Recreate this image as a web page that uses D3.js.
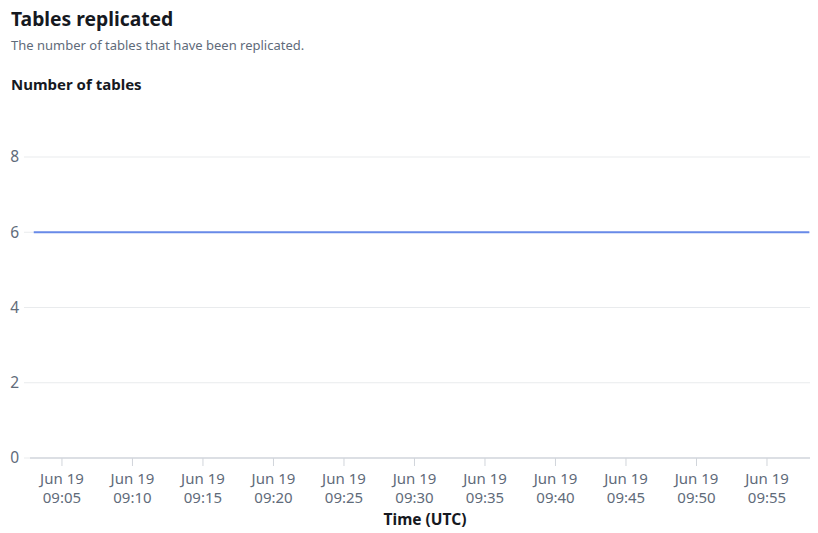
<!DOCTYPE html>
<html><head><meta charset="utf-8">
<script src="https://cdn.jsdelivr.net/npm/d3@7"></script>
<style>
body{margin:0;background:#fff;font-family:"Noto Sans","Open Sans",sans-serif;}
</style></head>
<body><svg id="c" width="818" height="533"></svg>
<script>
const times = ["09:03","09:04","09:05","09:06","09:07","09:08","09:09","09:10","09:11","09:12","09:13","09:14","09:15","09:16","09:17","09:18","09:19","09:20","09:21","09:22","09:23","09:24","09:25","09:26","09:27","09:28","09:29","09:30","09:31","09:32","09:33","09:34","09:35","09:36","09:37","09:38","09:39","09:40","09:41","09:42","09:43","09:44","09:45","09:46","09:47","09:48","09:49","09:50","09:51","09:52","09:53","09:54","09:55","09:56","09:57","09:58"];
const tablesReplicated = times.map(() => 6);
const yTicks = [0,2,4,6,8];
const xTickLabels = ["09:05","09:10","09:15","09:20","09:25","09:30","09:35","09:40","09:45","09:50","09:55"];

const parse = t => new Date(Date.UTC(2024,5,19,+t.slice(0,2),+t.slice(3,5)));
const data = times.map((t,i)=>({t:parse(t), v:tablesReplicated[i]}));

const svg = d3.select("#c");
const x = d3.scaleUtc().domain([new Date(Date.UTC(2024,5,19,9,2,44)), new Date(Date.UTC(2024,5,19,9,58,3))]).range([30,810]);
const y = d3.scaleLinear().domain([0,8]).range([458,157]);

svg.append("text").attr("x",11).attr("y",26).attr("font-size",19.3).attr("font-weight",700).attr("fill","#16191f").text("Tables replicated");
svg.append("text").attr("x",11).attr("y",50).attr("font-size",13).attr("fill","#5f6b7a").text("The number of tables that have been replicated.");
svg.append("text").attr("x",11).attr("y",90).attr("font-size",15).attr("font-weight",700).attr("fill","#16191f").text("Number of tables");

const g = svg.append("g");
g.selectAll("line.grid").data(yTicks.filter(d=>d>0)).join("line")
 .attr("x1",30).attr("x2",810).attr("y1",d=>y(d)).attr("y2",d=>y(d))
 .attr("stroke","#e9ebed").attr("stroke-width",1);
g.selectAll("text.yl").data(yTicks).join("text")
 .attr("x",19).attr("y",d=>y(d)).attr("dy","0.35em").attr("text-anchor","end")
 .attr("font-size",15.5).attr("fill","#5f6b7a").text(d=>d);
g.selectAll("line.ytick").data(yTicks).join("line")
 .attr("x1",24).attr("x2",30).attr("y1",d=>y(d)).attr("y2",d=>y(d)).attr("stroke","#e9ebed");

svg.append("line").attr("x1",30).attr("x2",810).attr("y1",y(0)).attr("y2",y(0)).attr("stroke","#d1d5db").attr("stroke-width",1.5);
const xt = xTickLabels.map(parse);
svg.selectAll("line.xt").data(xt).join("line")
 .attr("x1",d=>x(d)).attr("x2",d=>x(d)).attr("y1",y(0)).attr("y2",y(0)+8).attr("stroke","#d1d5db");
const lab = svg.selectAll("text.xl").data(xt).join("text")
 .attr("text-anchor","middle").attr("font-size",15).attr("fill","#5f6b7a");
lab.append("tspan").attr("x",d=>x(d)).attr("y",484).text("Jun 19");
lab.append("tspan").attr("x",d=>x(d)).attr("y",503).text(d=>d3.utcFormat("%H:%M")(d));
svg.append("text").attr("x",425).attr("y",525).attr("text-anchor","middle").attr("font-size",15.5).attr("font-weight",700).attr("fill","#16191f").text("Time (UTC)");

svg.append("path").datum(data)
 .attr("d",d3.line().x(d=>x(d.t)).y(d=>y(d.v)))
 .attr("fill","none").attr("stroke","#688ae8").attr("stroke-width",2);
</script></body></html>
